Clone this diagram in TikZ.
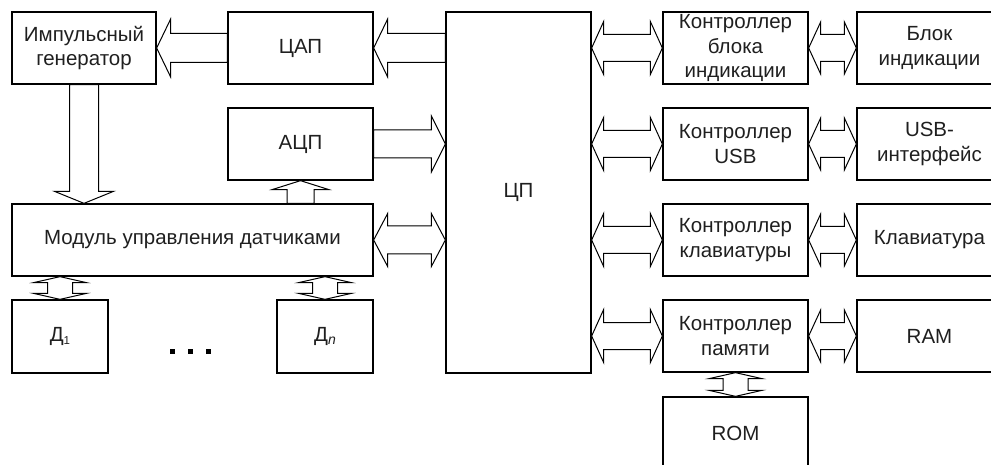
\documentclass[tikz,border=0pt]{standalone}
\usepackage{fontspec}
\setmainfont{Liberation Sans}
\usetikzlibrary{calc}
\tikzset{
  box/.style={draw, line width=1.3pt, inner sep=0pt, align=center, text=black!88,
              font=\fontsize{20.5}{24.5}\selectfont},
  blk/.style={draw, fill=white, line width=1pt, line join=miter},
}
% horizontal double arrow: #1 left point (gives y), #2 right point
\newcommand{\dblH}[5]{\draw[blk] let \p1=(#1), \p2=(#2) in
  (\x1,\y1) -- (\x1+#5,\y1+#4) -- (\x1+#5,\y1+#3) -- (\x2-#5,\y1+#3) -- (\x2-#5,\y1+#4)
  -- (\x2,\y1) -- (\x2-#5,\y1-#4) -- (\x2-#5,\y1-#3) -- (\x1+#5,\y1-#3) -- (\x1+#5,\y1-#4) -- cycle;}
% arrow pointing left: #1 tip (gives y), #2 tail
\newcommand{\arrL}[5]{\draw[blk] let \p1=(#1), \p2=(#2) in
  (\x1,\y1) -- (\x1+#5,\y1+#4) -- (\x1+#5,\y1+#3) -- (\x2,\y1+#3) -- (\x2,\y1-#3)
  -- (\x1+#5,\y1-#3) -- (\x1+#5,\y1-#4) -- cycle;}
% arrow pointing right: #1 tail (gives y), #2 tip
\newcommand{\arrR}[5]{\draw[blk] let \p1=(#1), \p2=(#2) in
  (\x2,\y1) -- (\x2-#5,\y1+#4) -- (\x2-#5,\y1+#3) -- (\x1,\y1+#3) -- (\x1,\y1-#3)
  -- (\x2-#5,\y1-#3) -- (\x2-#5,\y1-#4) -- cycle;}
% arrow pointing down: #1 tail (gives x), #2 tip
\newcommand{\arrD}[5]{\draw[blk] let \p1=(#1), \p2=(#2) in
  (\x1,\y2) -- (\x1+#4,\y2+#5) -- (\x1+#3,\y2+#5) -- (\x1+#3,\y1) -- (\x1-#3,\y1)
  -- (\x1-#3,\y2+#5) -- (\x1-#4,\y2+#5) -- cycle;}
% arrow pointing up: #1 tip (gives x), #2 tail
\newcommand{\arrU}[5]{\draw[blk] let \p1=(#1), \p2=(#2) in
  (\x1,\y1) -- (\x1+#4,\y1-#5) -- (\x1+#3,\y1-#5) -- (\x1+#3,\y2) -- (\x1-#3,\y2)
  -- (\x1-#3,\y1-#5) -- (\x1-#4,\y1-#5) -- cycle;}
% vertical double arrow: #1 top point (gives y), #2 bottom point (gives x)
\newcommand{\dblV}[5]{\draw[blk] let \p1=(#1), \p2=(#2) in
  (\x2,\y1) -- (\x2+#4,\y1-#5) -- (\x2+#3,\y1-#5) -- (\x2+#3,\y2+#5) -- (\x2+#4,\y2+#5)
  -- (\x2,\y2) -- (\x2-#4,\y2+#5) -- (\x2-#3,\y2+#5) -- (\x2-#3,\y1-#5) -- (\x2-#4,\y1-#5) -- cycle;}

\begin{document}
\begin{tikzpicture}[x=1pt,y=-1pt]
\useasboundingbox (0,0) rectangle (991,465);
\clip (0,0) rectangle (991,465);

% left part
\node[box, minimum width=144pt, minimum height=72pt] (gen) at (84,48) {Импульсный\\генератор};
\node[box, minimum width=145pt, minimum height=72pt] (dac) at (300.5,48) {ЦАП};
\node[box, minimum width=145pt, minimum height=72pt] (adc) at (300.5,144) {АЦП};
\node[box, minimum width=361pt, minimum height=72pt] (mod) at (192.5,240) {Модуль управления датчиками};
\node[box, minimum width=96pt, minimum height=73pt] (d1) at (60,336.5) {Д\raisebox{-0.25ex}{\fontsize{11.5}{11.5}\selectfont 1}};
\node[box, minimum width=96pt, minimum height=73pt] (dn) at (325,336.5) {Д\raisebox{-0.25ex}{\fontsize{14}{14}\selectfont\itshape n}};

% CPU
\node[box, minimum width=145pt, minimum height=361pt] (cpu) at (518.5,192.5) {ЦП};

% controllers
\node[box, minimum width=145pt, minimum height=72pt] (c1) at (735.5,48) {Контроллер\\блока\\индикации};
\node[box, minimum width=145pt, minimum height=72pt] (c2) at (735.5,144) {Контроллер\\USB};
\node[box, minimum width=145pt, minimum height=72pt] (c3) at (735.5,240) {Контроллер\\клавиатуры};
\node[box, minimum width=145pt, minimum height=72pt] (c4) at (735.5,336) {Контроллер\\памяти};
\node[box, minimum width=145pt, minimum height=72pt] (rom) at (735.5,433) {ROM};

% right devices (cut by the picture's right edge)
\node[box, minimum width=145pt, minimum height=72pt] (r1) at (929.5,48) {Блок\\индикации};
\node[box, minimum width=145pt, minimum height=72pt] (r2) at (929.5,144) {USB-\\интерфейс};
\node[box, minimum width=145pt, minimum height=72pt] (r3) at (929.5,240) {Клавиатура};
\node[box, minimum width=145pt, minimum height=72pt] (r4) at (929.5,336) {RAM};

% dots
\fill (169.5,349) rectangle ++(5,5);
\fill (188,349) rectangle ++(5,5);
\fill (206,349) rectangle ++(5,5);

% arrows left part
\arrL{gen.east}{dac.west}{14.5}{29}{14}
\arrL{dac.east}{cpu.west}{14.5}{29}{14}
\arrR{adc.east}{cpu.west}{14}{28}{14}
\dblH{mod.east}{cpu.west}{14}{26.5}{14}
\arrD{gen.south}{mod.north}{14.5}{29.5}{12}
\arrU{adc.south}{mod.north}{13.5}{28.5}{9}
\dblV{mod.south}{d1.north}{12.5}{26.5}{6}
\dblV{mod.south}{dn.north}{12.5}{26.5}{6}

% arrows right part
\dblH{cpu.east |- c1.west}{c1.west}{13.5}{26.5}{12}
\dblH{cpu.east |- c2.west}{c2.west}{13.5}{26.5}{12}
\dblH{cpu.east |- c3.west}{c3.west}{13.5}{26.5}{12}
\dblH{cpu.east |- c4.west}{c4.west}{13.5}{26.5}{12}
\dblH{c1.east}{r1.west}{13.5}{26}{12}
\dblH{c2.east}{r2.west}{13.5}{26}{12}
\dblH{c3.east}{r3.west}{13.5}{26}{12}
\dblH{c4.east}{r4.west}{13.5}{26}{12}
\dblV{c4.south}{rom.north}{12.5}{26.5}{6}
\end{tikzpicture}
\end{document}
